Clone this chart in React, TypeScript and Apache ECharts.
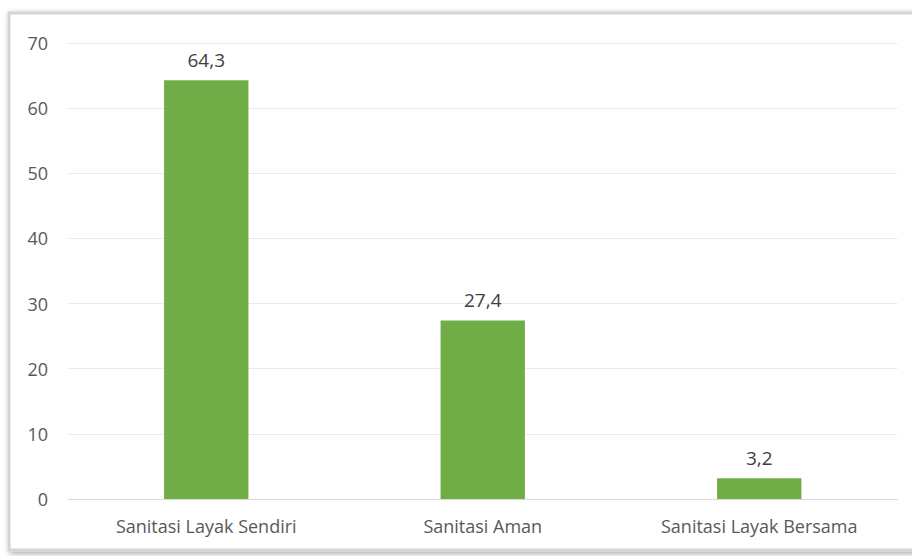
import React, { useEffect, useRef } from "react";
import * as echarts from "echarts";

const categories = ["Sanitasi Layak Sendiri", "Sanitasi Aman", "Sanitasi Layak Bersama"];
const values = [64.3, 27.4, 3.2];
const yMin = 0;
const yMax = 70;
const yStep = 10;

export default function App() {
  const ref = useRef<HTMLDivElement>(null);
  useEffect(() => {
    if (!ref.current) return;
    const chart = echarts.init(ref.current, null, { renderer: "svg" });
    chart.setOption({
      animation: false,
      backgroundColor: "#ffffff",
      graphic: [
        {
          type: "rect",
          shape: { x: 9, y: 13, width: 930, height: 537 },
          style: {
            fill: "#ffffff",
            stroke: "#d4d4d4",
            lineWidth: 3,
            shadowBlur: 6,
            shadowColor: "rgba(0,0,0,0.35)",
            shadowOffsetX: 2,
            shadowOffsetY: 2,
          },
          z: -10,
          silent: true,
        },
      ],
      grid: { left: 68, right: 14.5, top: 43, bottom: 57, containLabel: false },
      xAxis: {
        type: "category",
        data: categories,
        axisTick: { show: false },
        axisLine: { lineStyle: { color: "#d9d9d9", width: 1 } },
        axisLabel: {
          color: "#595959",
          fontFamily: "Open Sans",
          fontSize: 18,
          margin: 18,
        },
      },
      yAxis: {
        type: "value",
        min: yMin,
        max: yMax,
        interval: yStep,
        axisLine: { show: false },
        axisTick: { show: false },
        splitLine: { lineStyle: { color: "#ebebeb", width: 1 } },
        axisLabel: {
          color: "#595959",
          fontFamily: "Open Sans",
          fontSize: 18,
          margin: 20,
        },
      },
      series: [
        {
          type: "bar",
          data: values,
          barWidth: "30.5%",
          itemStyle: { color: "#70ad47" },
          label: {
            show: true,
            position: "top",
            distance: 11,
            color: "#404040",
            fontFamily: "Open Sans",
            fontSize: 19,
            formatter: (p: any) => String(p.value).replace(".", ","),
          },
        },
      ],
    });
    return () => chart.dispose();
  }, []);
  return (
    <div
      ref={ref}
      style={{ position: "absolute", left: 0, top: 0, width: 912, height: 556 }}
    />
  );
}
